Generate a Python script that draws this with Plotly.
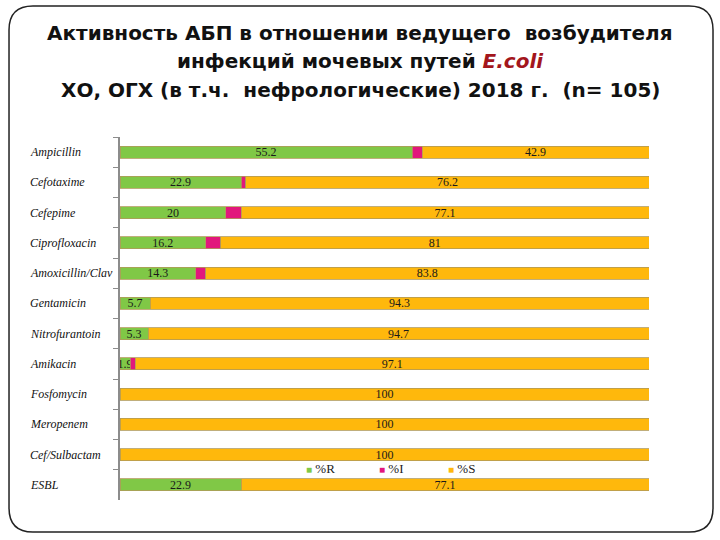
import plotly.graph_objects as go

# data
drugs = ["Ampicillin", "Cefotaxime", "Cefepime", "Ciprofloxacin", "Amoxicillin/Clav",
         "Gentamicin", "Nitrofurantoin", "Amikacin", "Fosfomycin", "Meropenem",
         "Cef/Sulbactam", "ESBL"]
pct_r = [55.2, 22.9, 20, 16.2, 14.3, 5.7, 5.3, 1.9, 0, 0, 0, 22.9]
pct_i = [1.9, 0.9, 2.9, 2.8, 1.9, 0, 0, 1.0, 0, 0, 0, 0]
pct_s = [42.9, 76.2, 77.1, 81, 83.8, 94.3, 94.7, 97.1, 100, 100, 100, 77.1]

series = [("%R", pct_r, "#80c846", True),
          ("%I", pct_i, "#e2177c", False),
          ("%S", pct_s, "#ffb80c", True)]

title_lines = ["Активность АБП в отношении ведущего  возбудителя",
               "инфекций мочевых путей <i><span style='color:#a3161c'>E.coli</span></i>",
               "ХО, ОГХ (в т.ч.  нефрологические) 2018 г.  (n= 105)"]

W, H = 720, 540
ML, MR, MT, MB = 120, 71, 137, 40
serif = "Liberation Serif, Times New Roman, serif"


def px(x, y):
    # page pixels -> paper coords
    return (x - ML) / (W - ML - MR), (H - MB - y) / (H - MT - MB)


fig = go.Figure()
for name, vals, col, labelled in series:
    txt = [f"{v:g}" if (labelled and v > 0) else "" for v in vals]
    fig.add_trace(go.Bar(
        y=drugs, x=vals, name=name, orientation="h", width=0.4, showlegend=False,
        marker=dict(color=col, line=dict(color="#b09a5a", width=0.8)),
        text=txt, textposition="inside", insidetextanchor="middle",
        textangle=0, constraintext="none", cliponaxis=False,
        textfont=dict(family=serif, size=12, color="#1a1a1a"),
    ))

# drug names, left aligned like in the slide
for d in drugs:
    fig.add_annotation(x=px(28, 0)[0], xref="paper", y=d, yref="y",
                       text=f"<i>{d}</i>", showarrow=False, xanchor="left",
                       font=dict(family=serif, size=12, color="#111111"))

# small legend: coloured square + series name
for (name, vals, col, labelled), lx in zip(series, [304, 377, 446]):
    fig.add_annotation(x=px(lx, 0)[0], xref="paper", y=px(0, 468)[1], yref="paper",
                       text=f"<span style='color:{col};font-size:10px'>■</span> {name}",
                       showarrow=False, xanchor="left", yanchor="middle",
                       font=dict(family=serif, size=13, color="#222222"))

# title, three centred lines
for line, ty in zip(title_lines, [33, 61, 90]):
    fig.add_annotation(x=px(W / 2, 0)[0], xref="paper", y=px(0, ty)[1], yref="paper",
                       text=f"<b>{line}</b>", showarrow=False,
                       xanchor="center", yanchor="middle",
                       font=dict(family="DejaVu Sans, Arial, sans-serif", size=20,
                                 color="#111111"))

# rounded slide frame
x0, y0, x1, y1, r = 9, 6, 713, 532, 24
pts = [("M", x0 + r, y0), ("L", x1 - r, y0), ("Q", x1, y0, x1, y0 + r),
       ("L", x1, y1 - r), ("Q", x1, y1, x1 - r, y1), ("L", x0 + r, y1),
       ("Q", x0, y1, x0, y1 - r), ("L", x0, y0 + r), ("Q", x0, y0, x0 + r, y0)]
path = ""
for p in pts:
    coords = p[1:]
    seg = []
    for i in range(0, len(coords), 2):
        a, b = px(coords[i], coords[i + 1])
        seg.append(f"{a:.4f},{b:.4f}")
    path += p[0] + " " + " ".join(seg) + " "
fig.add_shape(type="path", path=path + "Z", xref="paper", yref="paper",
              line=dict(color="#222222", width=1.5), layer="below")

fig.update_layout(
    width=W, height=H,
    margin=dict(l=ML, r=MR, t=MT, b=MB),
    barmode="stack",
    showlegend=False,
    plot_bgcolor="white", paper_bgcolor="white",
    uniformtext=dict(minsize=12, mode="show"),
    xaxis=dict(range=[0, 100], visible=False, fixedrange=True),
    yaxis=dict(autorange="reversed", showticklabels=False, ticks="outside",
               tickson="boundaries", ticklen=5, tickcolor="#8c8c8c",
               showline=True, linecolor="#8c8c8c", linewidth=2, showgrid=False),
)

fig.write_html("out.html", config={"displayModeBar": False},
               post_script="document.body.style.margin='0';")
